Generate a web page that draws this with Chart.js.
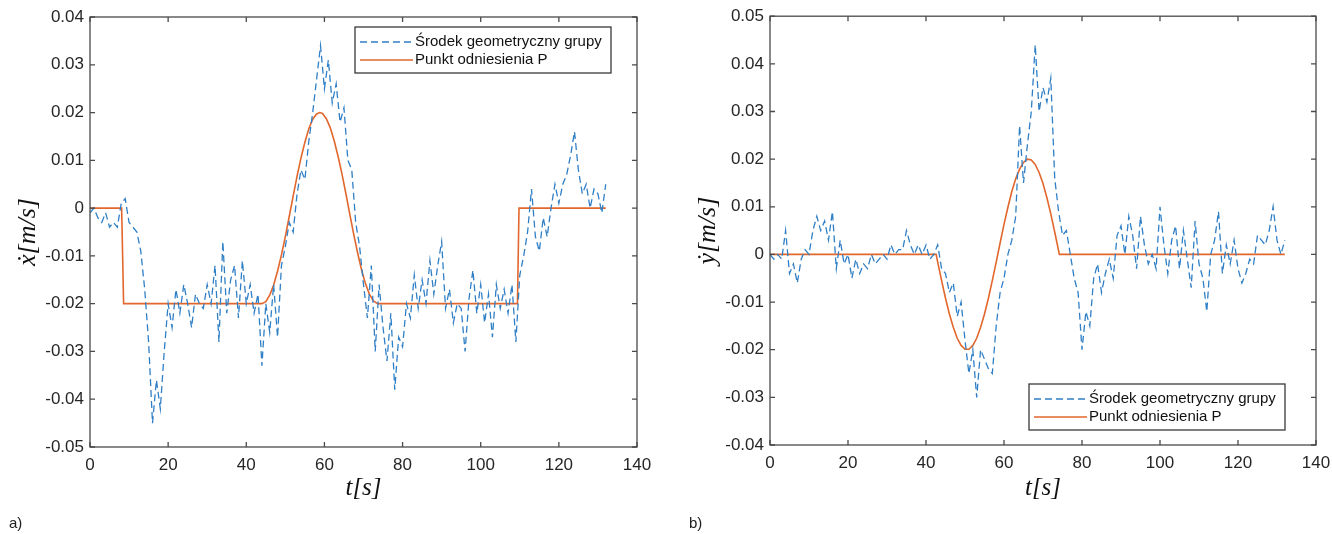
<!DOCTYPE html>
<html>
<head>
<meta charset="utf-8">
<script src="https://cdn.jsdelivr.net/npm/chart.js@4"></script>
<style>
  body { margin: 0; background: #fff; width: 1332px; height: 534px; position: relative; overflow: hidden; }
  canvas { position: absolute; top: 0; }
  #chartA { left: 0; }
  #chartB { left: 680px; }
  .tag { position: absolute; top: 514px; font: 15px "Liberation Sans", Arial, sans-serif; color: #222; }
</style>
</head>
<body>
<canvas id="chartA" width="660" height="534"></canvas>
<canvas id="chartB" width="652" height="534"></canvas>
<div class="tag" style="left:9px">a)</div>
<div class="tag" style="left:689px">b)</div>

<script>
// --- DANE ---
// czas próbkowania [s]
const tSec = [0,1,2,3,4,5,6,7,8,9,10,11,12,13,14,15,16,17,18,19,20,21,22,23,24,25,26,27,28,29,
  30,31,32,33,34,35,36,37,38,39,40,41,42,43,44,45,46,47,48,49,50,51,52,53,54,55,56,57,58,59,
  60,61,62,63,64,65,66,67,68,69,70,71,72,73,74,75,76,77,78,79,80,81,82,83,84,85,86,87,88,89,
  90,91,92,93,94,95,96,97,98,99,100,101,102,103,104,105,106,107,108,109,110,111,112,113,114,115,116,117,118,119,
  120,121,122,123,124,125,126,127,128,129,130,131,132];

// srodek geometryczny grupy - predkosc x
const centerVx = [-0.001,0,-0.002,-0.003,-0.001,-0.004,-0.003,-0.004,0.001,0.002,
  -0.003,-0.004,-0.005,-0.009,-0.017,-0.028,-0.045,-0.036,-0.042,-0.03,
  -0.02,-0.025,-0.017,-0.022,-0.016,-0.02,-0.025,-0.018,-0.02,-0.021,
  -0.016,-0.02,-0.012,-0.028,-0.007,-0.022,-0.015,-0.012,-0.023,-0.011,
  -0.02,-0.016,-0.022,-0.018,-0.033,-0.02,-0.026,-0.016,-0.027,-0.012,
  -0.008,-0.003,-0.005,0.003,0.008,0.006,0.014,0.02,0.027,0.034,
  0.025,0.031,0.022,0.026,0.018,0.021,0.01,0.008,-0.003,-0.008,
  -0.016,-0.023,-0.012,-0.03,-0.016,-0.025,-0.032,-0.022,-0.038,-0.027,
  -0.029,-0.02,-0.023,-0.014,-0.021,-0.015,-0.02,-0.011,-0.018,-0.012,
  -0.007,-0.021,-0.017,-0.024,-0.02,-0.021,-0.03,-0.019,-0.013,-0.022,
  -0.016,-0.024,-0.018,-0.027,-0.016,-0.021,-0.017,-0.022,-0.016,-0.028,
  -0.014,-0.01,-0.005,0.004,-0.006,-0.009,-0.002,-0.006,0,0.005,
  0.001,0.005,0.007,0.011,0.016,0.008,0.003,0.005,0,0.004,
  0.003,-0.001,0.005];

// srodek geometryczny grupy - predkosc y
const centerVy = [0,-0.001,0,-0.001,0.005,-0.004,-0.002,-0.006,-0.001,0.001,
  0,0.005,0.008,0.005,0.007,0.003,0.009,-0.003,0.003,-0.002,
  0,-0.005,-0.001,-0.004,-0.002,-0.003,0,-0.002,-0.001,0,
  -0.001,0.002,0,0.001,0.001,0.005,0.002,0,0.002,0,
  0.002,-0.001,0,0.002,-0.003,-0.004,-0.008,-0.006,-0.013,-0.01,
  -0.018,-0.025,-0.02,-0.03,-0.02,-0.022,-0.024,-0.025,-0.015,-0.008,
  -0.005,0,0.003,0.008,0.027,0.015,0.023,0.03,0.044,0.03,
  0.035,0.032,0.037,0.016,0.009,0.004,0.005,0,-0.005,-0.008,
  -0.02,-0.012,-0.015,-0.005,-0.002,-0.008,-0.004,-0.001,-0.005,0.004,
  0.006,0,0.008,0.004,-0.003,0.008,0.002,-0.002,0,-0.003,
  0.01,0.002,-0.004,0.003,0.006,-0.003,0.005,-0.001,-0.007,0.007,
  -0.002,-0.005,-0.012,0,0.003,0.009,-0.004,0.002,-0.002,0.003,
  -0.003,-0.006,-0.004,-0.001,-0.002,0.004,0.003,0.002,0.005,0.01,
  0.003,0,0.003];

// punkt odniesienia P - predkosc x
const refTx = [0,8.1,8.6,44,45,46,47,48,49,50,51,52,53,54,55,56,57,58,58.8,
  59.5,60.5,61.5,62.5,63.5,64.5,65.5,66.5,67.5,68.5,69.5,70.5,71.5,72.5,73.6,109.4,109.8,132];
const refVx = [0,0,-0.02,-0.02,-0.0196,-0.0182,-0.0161,-0.0132,-0.0098,-0.0059,-0.0017,0.0025,
  0.0067,0.0105,0.0138,0.0166,0.0186,0.0197,0.02,
  0.0198,0.0187,0.0168,0.0141,0.0108,0.0071,0.003,-0.0013,-0.0055,-0.0094,-0.0129,-0.0158,
  -0.018,-0.0194,-0.02,-0.02,0,0];

// punkt odniesienia P - predkosc y
const refTy = [0,42.6,43,44,45,46,47,48,49,50,51,52,53,54,55,56,57,58,59,60,61,62,63,64,65,66,
  67,68,69,70,71,72,73,74.2,132];
const refVy = [0,0,-0.0016,-0.0055,-0.0092,-0.0125,-0.0153,-0.0176,-0.0191,-0.0199,-0.0199,
  -0.0191,-0.0176,-0.0153,-0.0125,-0.0092,-0.0055,-0.0016,0.0024,0.0063,0.0099,0.0132,
  0.0159,0.0179,0.0193,0.02,0.0198,0.0189,0.0172,0.0149,0.0119,0.0085,0.0047,0,0];

const xTicksMax = 140;
const legendLabels = ['Środek geometryczny grupy', 'Punkt odniesienia P'];

const BLUE = '#2f7fc6';
const ORANGE = '#e2672d';
const AXIS = '#4a4a4a';
const TEXT = '#262626';

// --- RAMKA + LEGENDA W STYLU MATLABA ---
const matlabBox = {
  id: 'matlabBox',
  afterDatasetsDraw(chart, args, opts) {
    const { ctx, chartArea: a, scales } = chart;
    ctx.save();
    ctx.strokeStyle = AXIS;
    ctx.lineWidth = 1.3;
    ctx.strokeRect(a.left, a.top, a.right - a.left, a.bottom - a.top);
    const tl = 5;
    ctx.beginPath();
    scales.x.ticks.forEach(t => {
      const px = scales.x.getPixelForValue(t.value);
      ctx.moveTo(px, a.bottom); ctx.lineTo(px, a.bottom - tl);
      ctx.moveTo(px, a.top); ctx.lineTo(px, a.top + tl);
    });
    scales.y.ticks.forEach(t => {
      const py = scales.y.getPixelForValue(t.value);
      ctx.moveTo(a.left, py); ctx.lineTo(a.left + tl, py);
      ctx.moveTo(a.right, py); ctx.lineTo(a.right - tl, py);
    });
    ctx.stroke();

    // legenda
    const L = opts.left, T = opts.top, W = 256, H = 46;
    ctx.fillStyle = '#fff';
    ctx.fillRect(L, T, W, H);
    ctx.strokeStyle = '#3a3a3a';
    ctx.lineWidth = 1.3;
    ctx.strokeRect(L, T, W, H);
    const rows = [T + 15, T + 33];
    ctx.lineWidth = 1.4;
    ctx.strokeStyle = BLUE;
    ctx.setLineDash([7, 4]);
    ctx.beginPath(); ctx.moveTo(L + 5, rows[0]); ctx.lineTo(L + 58, rows[0]); ctx.stroke();
    ctx.setLineDash([]);
    ctx.strokeStyle = ORANGE;
    ctx.beginPath(); ctx.moveTo(L + 5, rows[1]); ctx.lineTo(L + 58, rows[1]); ctx.stroke();
    ctx.fillStyle = '#111';
    ctx.font = '15px "Liberation Sans", Arial, sans-serif';
    ctx.textBaseline = 'middle';
    ctx.fillText(legendLabels[0], L + 60, rows[0]);
    ctx.fillText(legendLabels[1], L + 60, rows[1]);
    ctx.restore();
  }
};

function fmtTick(v) {
  const r = Math.round(v * 100) / 100;
  return r === 0 ? '0' : String(r);
}

function makeChart(canvasId, cfg) {
  const ctx = document.getElementById(canvasId).getContext('2d');
  const blueData = tSec.map((t, i) => ({ x: t, y: cfg.center[i] }));
  const refData = cfg.refT.map((t, i) => ({ x: t, y: cfg.ref[i] }));
  return new Chart(ctx, {
    type: 'line',
    data: {
      datasets: [
        { label: legendLabels[0], data: blueData, borderColor: BLUE, borderWidth: 1.3,
          borderDash: [7, 4], pointRadius: 0, fill: false, tension: 0 },
        { label: legendLabels[1], data: refData, borderColor: ORANGE, borderWidth: 1.6,
          pointRadius: 0, fill: false, tension: 0 }
      ]
    },
    options: {
      responsive: false,
      animation: false,
      events: [],
      layout: { padding: { top: cfg.padTop, right: cfg.padRight, bottom: 0, left: 0 } },
      plugins: {
        legend: { display: false },
        tooltip: { enabled: false },
        matlabBox: { left: cfg.legLeft, top: cfg.legTop }
      },
      scales: {
        x: {
          type: 'linear', min: 0, max: xTicksMax,
          grid: { display: false, drawTicks: false },
          border: { display: false },
          ticks: { stepSize: 20, padding: 8, color: TEXT, maxRotation: 0,
                   font: { family: '"Liberation Sans", Arial, sans-serif', size: 17 } },
          title: { display: true, text: 't[s]', color: '#111',
                   font: { family: '"Liberation Serif", "DejaVu Serif", serif', size: 25, style: 'italic' },
                   padding: { top: 0, bottom: 31 } },
          afterFit: s => { s.height = cfg.xHeight; s.paddingRight = 0; s.paddingLeft = 0; }
        },
        y: {
          min: cfg.yMin, max: cfg.yMax,
          grid: { display: false, drawTicks: false },
          border: { display: false },
          ticks: { stepSize: 0.01, padding: 6, color: TEXT, callback: fmtTick,
                   font: { family: '"Liberation Sans", Arial, sans-serif', size: 17 } },
          title: { display: true, text: cfg.yTitle, color: '#111',
                   font: { family: '"Liberation Serif", "DejaVu Serif", serif', size: 26, style: 'italic' },
                   padding: { top: 13, bottom: 0 } },
          afterFit: s => { s.width = 90; }
        }
      }
    },
    plugins: [matlabBox]
  });
}

makeChart('chartA', {
  center: centerVx, refT: refTx, ref: refVx,
  yMin: -0.05, yMax: 0.04, yTitle: 'ẋ[m/s]',
  padTop: 17, padRight: 23, xHeight: 87,
  legLeft: 355, legTop: 27
});

makeChart('chartB', {
  center: centerVy, refT: refTy, ref: refVy,
  yMin: -0.04, yMax: 0.05, yTitle: 'ẏ[m/s]',
  padTop: 16, padRight: 16, xHeight: 89,
  legLeft: 349, legTop: 384
});
</script>
</body>
</html>
